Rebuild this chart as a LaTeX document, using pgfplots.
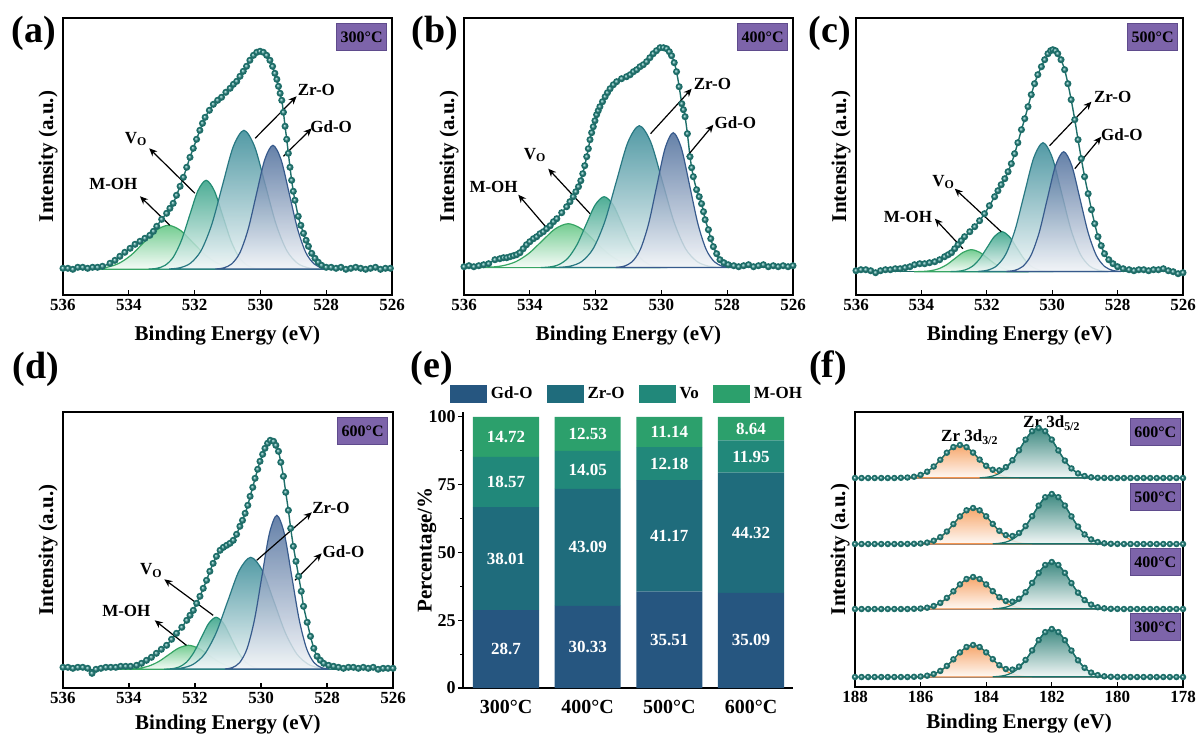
\documentclass[border=0pt]{standalone}
\usepackage{fontspec}
\setmainfont{Liberation Serif}
\usepackage{pgfplots}
\pgfplotsset{compat=1.18}
\usetikzlibrary{arrows.meta}

\definecolor{envL}{RGB}{30,110,105}
\definecolor{envB}{RGB}{55,150,145}
\definecolor{gdF}{RGB}{72,105,152}
\definecolor{gdL}{RGB}{55,90,140}
\definecolor{zrF}{RGB}{50,135,148}
\definecolor{zrL}{RGB}{40,120,130}
\definecolor{voF}{RGB}{45,158,130}
\definecolor{voL}{RGB}{35,140,115}
\definecolor{mhF}{RGB}{90,195,125}
\definecolor{mhL}{RGB}{55,165,100}
\definecolor{purp}{RGB}{125,100,170}
\definecolor{purpD}{RGB}{95,75,140}
\definecolor{orF}{RGB}{245,150,80}
\definecolor{tlF}{RGB}{25,115,105}
\definecolor{gdE}{RGB}{38,86,128}
\definecolor{zrE}{RGB}{31,108,124}
\definecolor{voE}{RGB}{33,136,122}
\definecolor{mhE}{RGB}{44,160,108}

\tikzset{
  tempbox/.style={fill=purp, draw=purpD, line width=0.4pt, text=black,
    font=\bfseries\fontsize{8}{9}\selectfont, inner sep=0pt,
    minimum width=25pt, minimum height=13.5pt},
  plab/.style={font=\bfseries\fontsize{8.5}{9}\selectfont},
  parr/.style={-{Stealth[length=4pt,width=3.5pt]}, line width=0.6pt, black},
  panel/.style={font=\bfseries\fontsize{19}{20}\selectfont},
  barlab/.style={font=\bfseries\fontsize{8.5}{9}\selectfont, text=white}
}

\pgfplotsset{
  xps/.style={scale only axis, anchor=south west, x dir=reverse, ytick=\empty,
    xtick pos=bottom, tick align=inside, major tick length=2.5pt,
    axis line style={line width=0.8pt},
    every tick/.append style={line width=0.6pt, black},
    /pgf/number format/assume math mode=true,
    xticklabel style={font=\bfseries\fontsize{8.5}{9}\selectfont, anchor=north, inner sep=0pt, yshift=-2pt},
    xlabel={Binding Energy (eV)}, ylabel={Intensity (a.u.)},
    xlabel style={font=\bfseries\fontsize{10.5}{12}\selectfont, at={(axis description cs:0.5,0)}, anchor=north, inner sep=0pt},
    ylabel style={font=\bfseries\fontsize{10.5}{12}\selectfont, at={(axis description cs:-0.015,0.5)}, anchor=south, inner sep=0pt}
  },
  o1s/.style={xps, xmin=526, xmax=536, xtick={526,528,530,532,534,536}},
  peak/.style 2 args={draw=#1, line width=0.6pt, top color=#2, bottom color=#2!7!white, fill opacity=0.84, smooth, no markers},
  env/.style={color=envL, line width=0.7pt, smooth, mark=ball, mark size=1.4pt, mark options={ball color=envB}},
  base/.style={color=envL, line width=0.7pt, no markers},
  egeom/.style={at={(231.5pt,-344pt)}, anchor=south west, scale only axis,
    width=165pt, height=138pt, xmin=-0.526, xmax=3.514, ymin=0, ymax=101.8}
}

\begin{document}
\begin{tikzpicture}
\path[use as bounding box] (0,0) rectangle (599pt,-367pt);

% ---------------- (a) 300 C
\begin{axis}[o1s, at={(31.5pt,-147.5pt)}, width=164.5pt, height=138.5pt,
  ymin=-25.7, ymax=251.3, xlabel style={yshift=-15.2pt}]
\addplot[base] coordinates {(536,0) (526,0)};
\addplot[peak={mhL}{mhF}] coordinates {(535.425,0.10)(535.05,0.49)(534.675,1.93)(534.3,5.95)(533.925,14.29)(533.55,26.69)(533.175,38.83)(532.8,44)(532.425,38.83)(532.05,26.69)(531.675,14.29)(531.3,5.95)(530.925,1.93)(530.55,0.49)(530.175,0.10)} -- cycle;
\addplot[peak={voL}{voF}] coordinates {(533.4,0.20)(533.15,0.99)(532.9,3.91)(532.65,12.04)(532.4,28.90)(532.15,53.98)(531.9,78.54)(531.65,89)(531.4,78.54)(531.15,53.98)(530.9,28.90)(530.65,12.04)(530.4,3.91)(530.15,0.99)(529.9,0.20)} -- cycle;
\addplot[peak={zrL}{zrF}] coordinates {(532.775,0.31)(532.45,1.54)(532.125,6.10)(531.8,18.81)(531.475,45.13)(531.15,84.30)(530.825,122.67)(530.5,139)(530.175,122.67)(529.85,84.30)(529.525,45.13)(529.2,18.81)(528.875,6.10)(528.55,1.54)(528.225,0.31)} -- cycle;
\addplot[peak={gdL}{gdF}] coordinates {(531.37,0.27)(531.12,1.38)(530.87,5.44)(530.62,16.78)(530.37,40.26)(530.12,75.21)(529.87,109.43)(529.62,124)(529.37,109.43)(529.12,75.21)(528.87,40.26)(528.62,16.78)(528.37,5.44)(528.12,1.38)(527.87,0.27)} -- cycle;
\addplot[env] coordinates {(536.0,1)(535.85,1)(535.7,0)(535.55,2)(535.4,2)(535.25,1)(535.1,2)(534.95,2)(534.8,3)(534.57,6)(534.42,9)(534.27,13)(534.12,17)(533.96,21)(533.81,25)(533.66,28)(533.51,31)(533.36,34)(533.25,38)(533.15,43)(533.0,50)(532.85,56)(532.75,61)(532.65,66)(532.55,74)(532.44,83)(532.34,92)(532.24,102)(532.14,112)(532.04,121)(531.94,130)(531.84,139)(531.76,146)(531.68,152)(531.55,159)(531.43,165)(531.3,169)(531.18,172)(531.05,177)(530.92,181)(530.82,185)(530.72,188)(530.62,193)(530.52,198)(530.42,203)(530.32,209)(530.21,214)(530.11,217)(530.01,218)(529.91,217)(529.81,214)(529.71,209)(529.63,203)(529.56,196)(529.5,190)(529.45,183)(529.4,176)(529.35,169)(529.3,157)(529.25,143)(529.2,130)(529.15,116)(529.1,102)(529.05,89)(529.0,78)(528.95,69)(528.85,53)(528.77,44)(528.69,36)(528.61,29)(528.54,23)(528.44,16)(528.34,11)(528.24,7)(528.14,4)(528.0,2)(527.85,2)(527.7,1)(527.55,2)(527.4,0)(527.25,1)(527.1,2)(526.95,1)(526.8,0)(526.65,1)(526.5,2)(526.35,0)(526.2,1)(526.05,1)};
\draw[parr] (axis cs:530.16,131) -- (axis cs:528.9,173);
\node[plab] at (axis cs:528.3,179) {Zr-O};
\draw[parr] (axis cs:529.3,113) -- (axis cs:528.44,141);
\node[plab] at (axis cs:527.85,143) {Gd-O};
\draw[parr] (axis cs:531.99,76) -- (axis cs:533.38,121);
\node[plab] at (axis cs:533.78,130) {V\textsubscript{O}};
\draw[parr] (axis cs:532.75,44) -- (axis cs:533.66,73);
\node[plab] at (axis cs:534.47,85) {M-OH};
\node[tempbox, anchor=north east, xshift=-2.5pt, yshift=-2.5pt] at (rel axis cs:1,1) {300°C};
\end{axis}

% ---------------- (b) 400 C
\begin{axis}[o1s, at={(232pt,-147.5pt)}, width=164.5pt, height=138.5pt,
  ymin=-27.3, ymax=249.7, xlabel style={yshift=-15.2pt}]
\addplot[base] coordinates {(536,0) (526,0)};
\addplot[peak={mhL}{mhF}] coordinates {(535.63,0.10)(535.23,0.49)(534.83,1.93)(534.43,5.95)(534.03,14.29)(533.63,26.69)(533.23,38.83)(532.83,44)(532.43,38.83)(532.03,26.69)(531.63,14.29)(531.23,5.95)(530.83,1.93)(530.43,0.49)(530.03,0.10)} -- cycle;
\addplot[peak={voL}{voF}] coordinates {(533.665,0.16)(533.39,0.79)(533.115,3.12)(532.84,9.61)(532.565,23.05)(532.29,43.06)(532.015,62.66)(531.74,71)(531.465,62.66)(531.19,43.06)(530.915,23.05)(530.64,9.61)(530.365,3.12)(530.09,0.79)(529.815,0.16)} -- cycle;
\addplot[peak={zrL}{zrF}] coordinates {(533.12,0.31)(532.77,1.58)(532.42,6.23)(532.07,19.21)(531.72,46.11)(531.37,86.12)(531.02,125.32)(530.67,142)(530.32,125.32)(529.97,86.12)(529.62,46.11)(529.27,19.21)(528.92,6.23)(528.57,1.58)(528.22,0.31)} -- cycle;
\addplot[peak={gdL}{gdF}] coordinates {(531.39,0.30)(531.14,1.50)(530.89,5.93)(530.64,18.27)(530.39,43.83)(530.14,81.88)(529.89,119.14)(529.64,135)(529.39,119.14)(529.14,81.88)(528.89,43.83)(528.64,18.27)(528.39,5.93)(528.14,1.50)(527.89,0.30)} -- cycle;
\addplot[env] coordinates {(536.0,1)(535.85,2)(535.7,1)(535.55,2)(535.4,3)(535.25,4)(535.06,8)(534.91,9)(534.8,10)(534.7,10)(534.6,11)(534.5,12)(534.4,13)(534.3,15)(534.2,19)(534.1,23)(534.0,26)(533.89,29)(533.79,31)(533.69,34)(533.59,36)(533.49,39)(533.38,42)(533.28,46)(533.18,49)(533.03,55)(532.88,61)(532.78,66)(532.68,71)(532.6,76)(532.52,81)(532.45,87)(532.39,94)(532.33,102)(532.27,111)(532.22,119)(532.17,128)(532.12,135)(532.07,141)(532.02,147)(531.97,153)(531.92,157)(531.87,161)(531.79,166)(531.71,171)(531.64,175)(531.56,179)(531.46,183)(531.36,186)(531.21,189)(531.06,191)(530.95,193)(530.85,196)(530.75,198)(530.65,201)(530.55,203)(530.45,206)(530.35,210)(530.25,214)(530.15,217)(530.04,220)(529.94,220)(529.84,219)(529.76,216)(529.69,212)(529.61,205)(529.54,196)(529.46,181)(529.38,164)(529.33,158)(529.28,151)(529.21,134)(529.13,111)(529.08,100)(529.03,91)(528.93,78)(528.85,71)(528.78,64)(528.72,56)(528.67,48)(528.57,38)(528.5,29)(528.42,21)(528.32,14)(528.22,8)(528.1,5)(527.97,3)(527.8,2)(527.65,1)(527.5,2)(527.35,3)(527.2,1)(527.05,2)(526.9,3)(526.75,1)(526.6,2)(526.45,1)(526.3,2)(526.15,1)(526.0,2)};
\draw[parr] (axis cs:530.33,134) -- (axis cs:529.08,179);
\node[plab] at (axis cs:528.45,184) {Zr-O};
\draw[parr] (axis cs:529.23,111) -- (axis cs:528.42,143);
\node[plab] at (axis cs:527.75,145) {Gd-O};
\draw[parr] (axis cs:532.17,54) -- (axis cs:533.44,99);
\node[plab] at (axis cs:533.84,113) {V\textsubscript{O}};
\draw[parr] (axis cs:533.44,38) -- (axis cs:534.35,73);
\node[plab] at (axis cs:535.1,81) {M-OH};
\node[tempbox, anchor=north east, xshift=-2.5pt, yshift=-2.5pt] at (rel axis cs:1,1) {400°C};
\end{axis}

% ---------------- (c) 500 C
\begin{axis}[o1s, at={(428pt,-147.5pt)}, width=163.5pt, height=138.5pt,
  ymin=-23.3, ymax=253.7, xlabel style={yshift=-15.2pt}]
\addplot[base] coordinates {(536,0) (526,0)};
\addplot[peak={mhL}{mhF}] coordinates {(534.22,0.05)(533.97,0.24)(533.72,0.97)(533.47,2.98)(533.22,7.14)(532.97,13.34)(532.72,19.42)(532.47,22)(532.22,19.42)(531.97,13.34)(531.72,7.14)(531.47,2.98)(531.22,0.97)(530.97,0.24)(530.72,0.05)} -- cycle;
\addplot[peak={voL}{voF}] coordinates {(533.115,0.09)(532.89,0.44)(532.665,1.76)(532.44,5.41)(532.215,12.99)(531.99,24.26)(531.765,35.30)(531.54,40)(531.315,35.30)(531.09,24.26)(530.865,12.99)(530.64,5.41)(530.415,1.76)(530.19,0.44)(529.965,0.09)} -- cycle;
\addplot[peak={zrL}{zrF}] coordinates {(532.275,0.28)(531.99,1.43)(531.705,5.66)(531.42,17.45)(531.135,41.89)(530.85,78.24)(530.565,113.84)(530.28,129)(529.995,113.84)(529.71,78.24)(529.425,41.89)(529.14,17.45)(528.855,5.66)(528.57,1.43)(528.285,0.28)} -- cycle;
\addplot[peak={gdL}{gdF}] coordinates {(531.4,0.26)(531.15,1.33)(530.9,5.27)(530.65,16.24)(530.4,38.96)(530.15,72.78)(529.9,105.9)(529.65,120)(529.4,105.9)(529.15,72.78)(528.9,38.96)(528.65,16.24)(528.4,5.27)(528.15,1.33)(527.9,0.26)} -- cycle;
\addplot[env] coordinates {(536.0,1)(535.85,2)(535.7,2)(535.55,1)(535.4,-1)(535.25,1)(535.1,2)(534.95,2)(534.8,3)(534.65,3)(534.5,4)(534.35,5)(534.21,7)(534.05,8)(533.9,8)(533.75,9)(533.59,10)(533.44,12)(533.29,15)(533.18,17)(533.08,19)(532.98,23)(532.88,27)(532.78,31)(532.68,35)(532.52,40)(532.37,45)(532.22,51)(532.07,58)(531.92,66)(531.76,75)(531.66,81)(531.56,87)(531.45,93)(531.35,100)(531.25,108)(531.15,118)(531.05,129)(530.94,142)(530.84,153)(530.74,165)(530.64,177)(530.54,188)(530.44,197)(530.33,205)(530.23,212)(530.13,218)(530.05,221)(529.98,222)(529.9,221)(529.83,218)(529.73,212)(529.62,202)(529.52,188)(529.42,172)(529.31,152)(529.21,132)(529.11,113)(529.01,95)(528.9,78)(528.8,62)(528.7,48)(528.6,35)(528.5,26)(528.4,18)(528.27,12)(528.14,8)(528.0,5)(527.83,3)(527.65,2)(527.5,1)(527.35,2)(527.2,2)(527.05,1)(526.9,2)(526.75,2)(526.6,3)(526.45,1)(526.3,0)(526.15,-2)(526.0,-1)};
\draw[parr] (axis cs:530.08,126) -- (axis cs:528.8,170);
\node[plab] at (axis cs:528.15,175) {Zr-O};
\draw[parr] (axis cs:529.31,103) -- (axis cs:528.5,135);
\node[plab] at (axis cs:527.87,137) {Gd-O};
\draw[parr] (axis cs:531.56,40) -- (axis cs:532.98,83);
\node[plab] at (axis cs:533.32,90) {V\textsubscript{O}};
\draw[parr] (axis cs:532.73,23) -- (axis cs:533.59,53);
\node[plab] at (axis cs:534.41,55) {M-OH};
\node[tempbox, anchor=north east, xshift=-2.5pt, yshift=-2.5pt] at (rel axis cs:1,1) {500°C};
\end{axis}

% ---------------- (d) 600 C
\begin{axis}[o1s, at={(31.5pt,-344pt)}, width=165pt, height=138pt,
  ymin=-18.7, ymax=257.3, xlabel style={yshift=-13.2pt}]
\addplot[base] coordinates {(536,0) (526,0)};
\addplot[peak={mhL}{mhF}] coordinates {(534.3,0.05)(534.0,0.27)(533.7,1.05)(533.4,3.25)(533.1,7.79)(532.8,14.56)(532.5,21.18)(532.2,24)(531.9,21.18)(531.6,14.56)(531.3,7.79)(531.0,3.25)(530.7,1.05)(530.4,0.27)(530.1,0.05)} -- cycle;
\addplot[peak={voL}{voF}] coordinates {(532.935,0.11)(532.71,0.58)(532.485,2.28)(532.26,7.04)(532.035,16.88)(531.81,31.54)(531.585,45.89)(531.36,52)(531.135,45.89)(530.91,31.54)(530.685,16.88)(530.46,7.04)(530.235,2.28)(530.01,0.58)(529.785,0.11)} -- cycle;
\addplot[peak={zrL}{zrF}] coordinates {(532.76,0.25)(532.41,1.24)(532.06,4.92)(531.71,15.15)(531.36,36.37)(531.01,67.93)(530.66,98.84)(530.31,112)(529.96,98.84)(529.61,67.93)(529.26,36.37)(528.91,15.15)(528.56,4.92)(528.21,1.24)(527.86,0.25)} -- cycle;
\addplot[peak={gdL}{gdF}] coordinates {(531.095,0.34)(530.87,1.71)(530.645,6.76)(530.42,20.84)(530.195,50.00)(529.97,93.40)(529.745,135.91)(529.52,154)(529.295,135.91)(529.07,93.40)(528.845,50.00)(528.62,20.84)(528.395,6.76)(528.17,1.71)(527.945,0.34)} -- cycle;
\addplot[env] coordinates {(536.0,2)(535.85,2)(535.7,1)(535.55,2)(535.4,2)(535.25,1)(535.12,-4)(535.0,0)(534.85,1)(534.7,2)(534.55,2)(534.4,2)(534.25,3)(534.1,3)(533.95,3)(533.77,4)(533.62,6)(533.47,9)(533.32,12)(533.17,16)(533.02,20)(532.86,24)(532.71,30)(532.56,36)(532.4,42)(532.25,49)(532.15,54)(532.05,59)(531.95,66)(531.85,73)(531.75,81)(531.65,89)(531.55,98)(531.45,106)(531.35,113)(531.24,119)(531.14,122)(531.04,124)(530.94,126)(530.84,129)(530.74,135)(530.64,143)(530.56,149)(530.48,156)(530.4,164)(530.33,173)(530.25,182)(530.18,191)(530.1,200)(530.03,208)(529.95,215)(529.88,221)(529.8,226)(529.72,229)(529.62,228)(529.55,224)(529.47,218)(529.4,207)(529.32,193)(529.25,177)(529.17,159)(529.1,141)(529.02,123)(528.94,108)(528.86,93)(528.78,78)(528.71,63)(528.6,47)(528.5,33)(528.4,21)(528.3,13)(528.2,9)(528.1,6)(527.95,4)(527.8,3)(527.65,2)(527.5,1)(527.35,2)(527.2,2)(527.05,1)(526.9,2)(526.75,1)(526.6,2)(526.45,0)(526.3,1)(526.15,1)(526.0,1)};
\draw[parr] (axis cs:530.13,109) -- (axis cs:528.46,157);
\node[plab] at (axis cs:527.88,161) {Zr-O};
\draw[parr] (axis cs:528.97,89) -- (axis cs:528.16,116);
\node[plab] at (axis cs:527.5,118) {Gd-O};
\draw[parr] (axis cs:531.45,54) -- (axis cs:532.93,90);
\node[plab] at (axis cs:533.32,99) {V\textsubscript{O}};
\draw[parr] (axis cs:532.26,24) -- (axis cs:533.22,49);
\node[plab] at (axis cs:534.08,58) {M-OH};
\node[tempbox, anchor=north east, xshift=-2.5pt, yshift=-2.5pt] at (rel axis cs:1,1) {600°C};
\end{axis}

% ---------------- (e) stacked bars
\begin{axis}[egeom,
  ybar stacked, bar width=0.81,
  xtick={0,1,2,3}, xticklabels={300°C,400°C,500°C,600°C},
  ytick={0,25,50,75,100}, minor y tick num=1,
  axis lines*=left, axis line style={line width=0.8pt},
  xtick style={draw=none}, ytick style={line width=0.6pt, black},
  tick align=outside, major tick length=2.5pt, minor tick length=1.5pt,
  /pgf/number format/assume math mode=true,
  xticklabel style={font=\bfseries\fontsize{10}{11}\selectfont, anchor=north, inner sep=0pt, yshift=-3.5pt},
  yticklabel style={font=\bfseries\fontsize{9}{10}\selectfont, inner sep=1pt},
  ylabel={Percentage/\%},
  ylabel style={font=\bfseries\fontsize{10.5}{12}\selectfont, at={(axis description cs:-0.08,0.5)}, anchor=south, inner sep=0pt},
  legend style={at={(axis description cs:0.5,1)}, anchor=south, yshift=3pt, draw=none, fill=none,
    font=\bfseries\fontsize{8.5}{9}\selectfont, legend columns=4, inner sep=0pt,
    /tikz/every even column/.append style={column sep=5pt}},
  legend image code/.code={\path[#1] (0pt,-4.5pt) rectangle (18.5pt,4.5pt);}
]
\addplot[draw=none, fill=gdE] coordinates {(0,28.7) (1,30.33) (2,35.51) (3,35.09)};
\addplot[draw=none, fill=zrE] coordinates {(0,38.01) (1,43.09) (2,41.17) (3,44.32)};
\addplot[draw=none, fill=voE] coordinates {(0,18.57) (1,14.05) (2,12.18) (3,11.95)};
\addplot[draw=none, fill=mhE] coordinates {(0,14.72) (1,12.53) (2,11.14) (3,8.64)};
\legend{Gd-O, Zr-O, Vo, M-OH}
\end{axis}
% value labels of (e), on top of the bars
\begin{axis}[egeom, hide axis]
\node[barlab] at (axis cs:0,14.35) {28.7};
\node[barlab] at (axis cs:1,15.17) {30.33};
\node[barlab] at (axis cs:2,17.76) {35.51};
\node[barlab] at (axis cs:3,17.55) {35.09};
\node[barlab] at (axis cs:0,47.71) {38.01};
\node[barlab] at (axis cs:1,51.88) {43.09};
\node[barlab] at (axis cs:2,56.10) {41.17};
\node[barlab] at (axis cs:3,57.25) {44.32};
\node[barlab] at (axis cs:0,76.0) {18.57};
\node[barlab] at (axis cs:1,80.45) {14.05};
\node[barlab] at (axis cs:2,82.77) {12.18};
\node[barlab] at (axis cs:3,85.39) {11.95};
\node[barlab] at (axis cs:0,92.64) {14.72};
\node[barlab] at (axis cs:1,93.74) {12.53};
\node[barlab] at (axis cs:2,94.43) {11.14};
\node[barlab] at (axis cs:3,95.68) {8.64};
\end{axis}

% ---------------- (f) Zr 3d
\begin{axis}[xps, at={(427.5pt,-343.5pt)}, width=164pt, height=137.5pt,
  xmin=178, xmax=188, xtick={178,180,182,184,186,188},
  ymin=0, ymax=275, xlabel style={yshift=-13.2pt}]
% 600
\addplot[gray, line width=0.7pt, no markers] coordinates {(186.8,209) (180.6,209)};
\addplot[peak={orF}{orF}] coordinates {(186.6,209.16)(186.4,209.48)(186.2,210.29)(186.0,212.06)(185.8,215.32)(185.6,220.46)(185.4,227.2)(185.2,234.33)(185.0,239.89)(184.8,242)(184.6,239.89)(184.4,234.33)(184.2,227.2)(184.0,220.46)(183.8,215.32)(183.6,212.06)(183.4,210.29)(183.2,209.48)(183.0,209.16)} -- cycle;
\addplot[peak={tlF}{tlF}] coordinates {(184.2,209.24)(184.0,209.73)(183.8,210.96)(183.6,213.63)(183.4,218.58)(183.2,226.36)(183.0,236.58)(182.8,247.38)(182.6,255.8)(182.4,259)(182.2,255.8)(182.0,247.38)(181.8,236.58)(181.6,226.36)(181.4,218.58)(181.2,213.63)(181.0,210.96)(180.8,209.73)(180.6,209.24)} -- cycle;
\addplot[env, mark size=1.25pt] coordinates {(188,209)(187.8,209)(187.6,209)(187.4,209)(187.2,209)(187,209)(186.8,209)(186.6,209.2)(186.4,209.5)(186.2,210.3)(186,212.1)(185.8,215.3)(185.6,220.5)(185.4,227.2)(185.2,234.3)(185,239.9)(184.8,242)(184.6,239.9)(184.4,234.4)(184.2,227.4)(184,221.2)(183.8,217.3)(183.6,216.7)(183.4,219.9)(183.2,226.8)(183,236.7)(182.8,247.4)(182.6,255.8)(182.4,259)(182.2,255.8)(182,247.4)(181.8,236.6)(181.6,226.4)(181.4,218.6)(181.2,213.6)(181,211)(180.8,209.7)(180.6,209.2)(180.4,209.1)(180.2,209)(180,209)(179.8,209)(179.6,209)(179.4,209)(179.2,209)(179,209)(178.8,209)(178.6,209)(178.4,209)(178.2,209)(178,209)};
% 500
\addplot[gray, line width=0.7pt, no markers] coordinates {(186.6,143) (180.2,143)};
\addplot[peak={orF}{orF}] coordinates {(186.2,143.17)(186.0,143.52)(185.8,144.41)(185.6,146.33)(185.4,149.89)(185.2,155.5)(185.0,162.86)(184.8,170.63)(184.6,176.7)(184.4,179)(184.2,176.7)(184.0,170.63)(183.8,162.86)(183.6,155.5)(183.4,149.89)(183.2,146.33)(183.0,144.41)(182.8,143.52)(182.6,143.17)} -- cycle;
\addplot[peak={tlF}{tlF}] coordinates {(183.8,143.24)(183.6,143.73)(183.4,144.96)(183.2,147.63)(183.0,152.58)(182.8,160.36)(182.6,170.58)(182.4,181.38)(182.2,189.8)(182.0,193)(181.8,189.8)(181.6,181.38)(181.4,170.58)(181.2,160.36)(181.0,152.58)(180.8,147.63)(180.6,144.96)(180.4,143.73)(180.2,143.24)} -- cycle;
\addplot[env, mark size=1.25pt] coordinates {(188,143)(187.8,143)(187.6,143)(187.4,143)(187.2,143)(187,143)(186.8,143)(186.6,143)(186.4,143.1)(186.2,143.2)(186,143.5)(185.8,144.4)(185.6,146.3)(185.4,149.9)(185.2,155.5)(185,162.9)(184.8,170.6)(184.6,176.7)(184.4,179)(184.2,176.7)(184,170.7)(183.8,163.1)(183.6,156.2)(183.4,151.9)(183.2,151)(183,154)(182.8,160.9)(182.6,170.8)(182.4,181.4)(182.2,189.8)(182,193)(181.8,189.8)(181.6,181.4)(181.4,170.6)(181.2,160.4)(181,152.6)(180.8,147.6)(180.6,145)(180.4,143.7)(180.2,143.2)(180,143.1)(179.8,143)(179.6,143)(179.4,143)(179.2,143)(179,143)(178.8,143)(178.6,143)(178.4,143)(178.2,143)(178,143)};
% 400
\addplot[gray, line width=0.7pt, no markers] coordinates {(186.6,78) (180.2,78)};
\addplot[peak={orF}{orF}] coordinates {(186.2,78.15)(186.0,78.46)(185.8,79.25)(185.6,80.96)(185.4,84.13)(185.2,89.11)(185.0,95.65)(184.8,102.56)(184.6,107.95)(184.4,110)(184.2,107.95)(184.0,102.56)(183.8,95.65)(183.6,89.11)(183.4,84.13)(183.2,80.96)(183.0,79.25)(182.8,78.46)(182.6,78.15)} -- cycle;
\addplot[peak={tlF}{tlF}] coordinates {(183.8,78.22)(183.6,78.68)(183.4,79.84)(183.2,82.35)(183.0,87)(182.8,94.32)(182.6,103.93)(182.4,114.08)(182.2,121.99)(182.0,125)(181.8,121.99)(181.6,114.08)(181.4,103.93)(181.2,94.32)(181.0,87)(180.8,82.35)(180.6,79.84)(180.4,78.68)(180.2,78.22)} -- cycle;
\addplot[env, mark size=1.25pt] coordinates {(188,78)(187.8,78)(187.6,78)(187.4,78)(187.2,78)(187,78)(186.8,78)(186.6,78)(186.4,78)(186.2,78.2)(186,78.5)(185.8,79.3)(185.6,81)(185.4,84.1)(185.2,89.1)(185,95.7)(184.8,102.6)(184.6,108)(184.4,110)(184.2,108)(184,102.6)(183.8,95.9)(183.6,89.8)(183.4,86)(183.2,85.3)(183,88.3)(182.8,94.8)(182.6,104.1)(182.4,114.1)(182.2,122)(182,125)(181.8,122)(181.6,114.1)(181.4,103.9)(181.2,94.3)(181,87)(180.8,82.4)(180.6,79.8)(180.4,78.7)(180.2,78.2)(180,78.1)(179.8,78)(179.6,78)(179.4,78)(179.2,78)(179,78)(178.8,78)(178.6,78)(178.4,78)(178.2,78)(178,78)};
% 300
\addplot[gray, line width=0.7pt, no markers] coordinates {(186.6,10) (180.2,10)};
\addplot[peak={orF}{orF}] coordinates {(186.2,10.15)(186.0,10.46)(185.8,11.25)(185.6,12.96)(185.4,16.13)(185.2,21.11)(185.0,27.65)(184.8,34.56)(184.6,39.95)(184.4,42)(184.2,39.95)(184.0,34.56)(183.8,27.65)(183.6,21.11)(183.4,16.13)(183.2,12.96)(183.0,11.25)(182.8,10.46)(182.6,10.15)} -- cycle;
\addplot[peak={tlF}{tlF}] coordinates {(183.8,10.23)(183.6,10.7)(183.4,11.88)(183.2,14.44)(183.0,19.19)(182.8,26.67)(182.6,36.48)(182.4,46.84)(182.2,54.93)(182.0,58)(181.8,54.93)(181.6,46.84)(181.4,36.48)(181.2,26.67)(181.0,19.19)(180.8,14.44)(180.6,11.88)(180.4,10.7)(180.2,10.23)} -- cycle;
\addplot[env, mark size=1.25pt] coordinates {(188,10)(187.8,10)(187.6,10)(187.4,10)(187.2,10)(187,10)(186.8,10)(186.6,10)(186.4,10)(186.2,10.2)(186,10.5)(185.8,11.3)(185.6,13)(185.4,16.1)(185.2,21.1)(185,27.7)(184.8,34.6)(184.6,40)(184.4,42)(184.2,40)(184,34.6)(183.8,27.9)(183.6,21.8)(183.4,18)(183.2,17.4)(183,20.4)(182.8,27.1)(182.6,36.6)(182.4,46.9)(182.2,54.9)(182,58)(181.8,54.9)(181.6,46.8)(181.4,36.5)(181.2,26.7)(181,19.2)(180.8,14.4)(180.6,11.9)(180.4,10.7)(180.2,10.2)(180,10.1)(179.8,10)(179.6,10)(179.4,10)(179.2,10)(179,10)(178.8,10)(178.6,10)(178.4,10)(178.2,10)(178,10)};
\node[plab] at (axis cs:184.5,250) {Zr 3d\textsubscript{3/2}};
\node[plab] at (axis cs:182.0,264) {Zr 3d\textsubscript{5/2}};
\node[tempbox, anchor=north east] at (axis cs:178.07,269) {600°C};
\node[tempbox, anchor=north east] at (axis cs:178.07,204) {500°C};
\node[tempbox, anchor=north east] at (axis cs:178.07,139) {400°C};
\node[tempbox, anchor=north east] at (axis cs:178.07,74) {300°C};
\end{axis}

\node[panel] at (17pt,-16.5pt) {(a)};
\node[panel] at (217.5pt,-16.5pt) {(b)};
\node[panel] at (415pt,-16.5pt) {(c)};
\node[panel] at (18pt,-184.5pt) {(d)};
\node[panel] at (216pt,-184pt) {(e)};
\node[panel] at (414pt,-184pt) {(f)};
\end{tikzpicture}
\end{document}
